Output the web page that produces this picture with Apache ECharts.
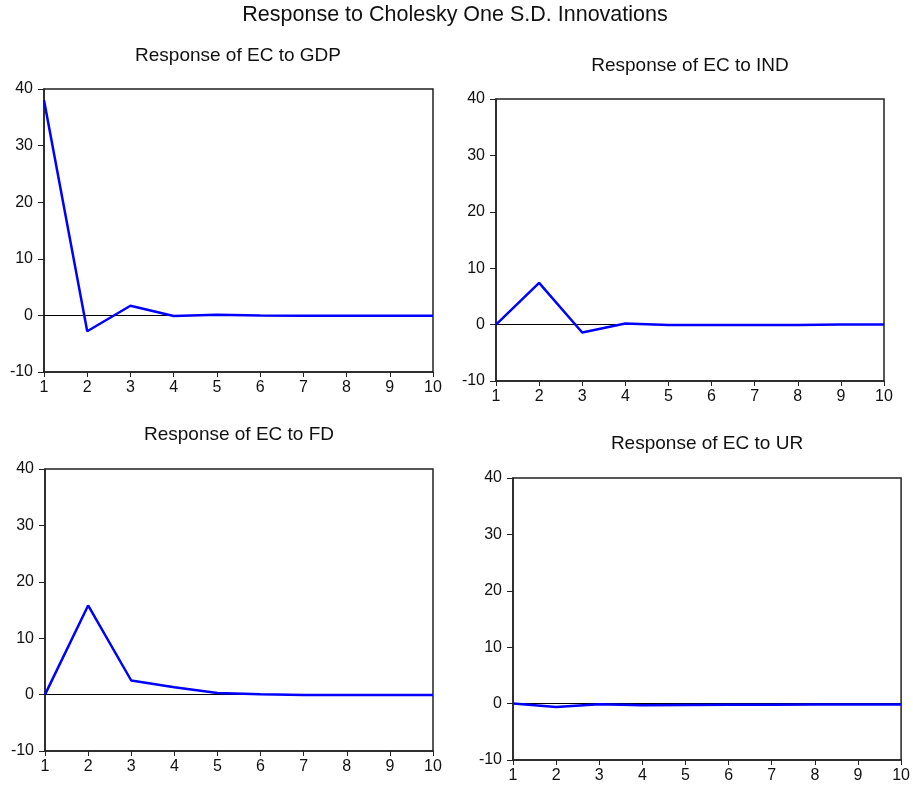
<!DOCTYPE html>
<html>
<head>
<meta charset="utf-8">
<script src="https://cdn.jsdelivr.net/npm/echarts@6/dist/echarts.min.js"></script>
<style>
  html, body { margin: 0; padding: 0; background: #fff; }
  #main { width: 913px; height: 788px; }
</style>
</head>
<body>
<div id="main"></div>
<script>
// periods 1..10
var periods = [1, 2, 3, 4, 5, 6, 7, 8, 9, 10];

// impulse responses of EC
var gdpResp = [38.0, -2.8, 1.7, -0.1, 0.1, 0.0, -0.05, -0.05, -0.05, -0.05];
var indResp = [0.0, 7.4, -1.4, 0.2, -0.05, -0.05, -0.05, -0.05, 0.0, 0.0];
var fdResp  = [0.0, 15.8, 2.5, 1.3, 0.3, 0.05, -0.05, -0.05, -0.05, -0.05];
var urResp  = [0.0, -0.6, -0.1, -0.3, -0.25, -0.2, -0.2, -0.15, -0.15, -0.15];

var panelTitles = ['Response of EC to GDP', 'Response of EC to IND', 'Response of EC to FD', 'Response of EC to UR'];
var yTicks = { min: -10, max: 40, step: 10 };

// panel layout: grid box + title centre
var panels = [
    { left: 44,  top: 89,  width: 389, height: 283, tx: 238, ty: 56,  data: gdpResp },
    { left: 496, top: 99,  width: 388, height: 282, tx: 690, ty: 66,  data: indResp },
    { left: 45,  top: 469, width: 388, height: 282, tx: 239, ty: 435, data: fdResp },
    { left: 513, top: 478, width: 389, height: 282, tx: 707, ty: 444, data: urResp }
];

var FONT = 'Liberation Sans, Arial, sans-serif';
var AXIS_COLOR = '#222';

var titles = [{
    text: 'Response to Cholesky One S.D. Innovations',
    left: 455, top: 4, textAlign: 'center', padding: 0,
    textStyle: { fontFamily: FONT, fontSize: 21.5, fontWeight: 'normal', color: '#111' }
}];
var grids = [], xAxes = [], yAxes = [], series = [];

panels.forEach(function (p, i) {
    titles.push({
        text: panelTitles[i],
        left: p.tx, top: p.ty - 10, textAlign: 'center', padding: 0,
        textStyle: { fontFamily: FONT, fontSize: 19, fontWeight: 'normal', color: '#111' }
    });
    grids.push({
        left: p.left, top: p.top, width: p.width, height: p.height,
        show: true, borderColor: AXIS_COLOR, borderWidth: 1.5, backgroundColor: '#fff'
    });
    xAxes.push({
        type: 'value', gridIndex: i, min: 1, max: 10, interval: 1,
        axisLine: { show: true, onZero: false, lineStyle: { color: AXIS_COLOR, width: 1.5 } },
        axisTick: { show: true, inside: false, length: 5, lineStyle: { color: AXIS_COLOR } },
        axisLabel: { color: '#111', fontFamily: FONT, fontSize: 16, margin: 8, showMinLabel: true, showMaxLabel: true },
        splitLine: { show: false }
    });
    yAxes.push({
        type: 'value', gridIndex: i, min: yTicks.min, max: yTicks.max, interval: yTicks.step,
        axisLine: { show: true, lineStyle: { color: AXIS_COLOR, width: 1.5 } },
        axisTick: { show: true, inside: false, length: 6, lineStyle: { color: AXIS_COLOR } },
        axisLabel: { color: '#111', fontFamily: FONT, fontSize: 16, margin: 11 },
        splitLine: { show: false }
    });
    series.push({
        type: 'line', xAxisIndex: i, yAxisIndex: i,
        data: periods.map(function (x, k) { return [x, p.data[k]]; }),
        showSymbol: false, symbol: 'none',
        lineStyle: { color: '#0000ff', width: 2.5 },
        z: 3,
        markLine: {
            silent: true, symbol: 'none', z: 1,
            label: { show: false },
            lineStyle: { color: '#000', width: 1, type: 'solid' },
            data: [{ yAxis: 0 }]
        }
    });
});

var chart = echarts.init(document.getElementById('main'));
chart.setOption({
    backgroundColor: '#fff',
    animation: false,
    title: titles,
    grid: grids,
    xAxis: xAxes,
    yAxis: yAxes,
    series: series
});
</script>
</body>
</html>
